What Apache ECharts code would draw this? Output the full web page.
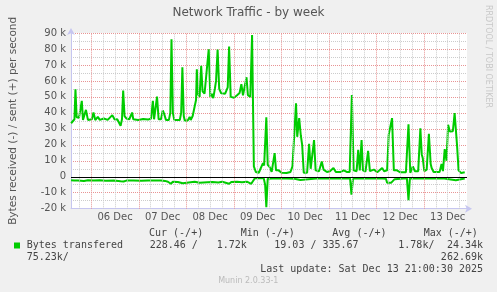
<!DOCTYPE html>
<html><head><meta charset="utf-8">
<script src="https://cdn.jsdelivr.net/npm/echarts@6/dist/echarts.min.js"></script>
<style>html,body{margin:0;padding:0;background:#f0f0f0}#c{width:497px;height:292px}</style>
</head><body><div id="c"></div>
<script>
// time in hours since 2025-12-05 00:00, values in kB/s
const sent = [
[13.8,33.5],[14.8,33.5],[15.5,36],[16.0,54.8],[16.6,37.3],[17.8,37],[19.2,47.5],[19.8,35.6],[21.3,41.9],[22.3,35.6],
[24.3,36],[25.1,40.2],[26.0,35.5],[27.3,37.5],[28.3,35.6],[30.3,36.5],[32.3,35.6],[34.6,38.6],[35.8,35.8],[37.1,36],
[38.8,31.9],[39.5,36],[40.1,54],[40.8,38],[41.7,36.5],[43.2,36],[44.6,40.2],[45.2,36],[47.7,35.5],[50.2,36.2],
[52.7,35.8],[54.2,36.5],[55.1,47.5],[55.7,36],[56.5,36],[57.2,50.2],[58.0,36],[59.2,36],[60.1,41.5],[60.9,39],
[61.7,35.6],[63.2,35.6],[63.9,40],[64.5,86],[65.2,40],[65.9,35.6],[68.7,35.5],[69.4,40],[70.0,68.5],[70.7,38],
[71.2,35.2],[72.7,35.2],[73.7,37.5],[74.2,35.5],[75.2,38],[76.2,44],[76.9,48],[77.3,67.3],[77.8,52],[78.7,50],
[79.5,69.4],[80.2,53.5],[81.2,52],[82.2,53],[83.3,79.8],[84.1,50],[84.9,52],[85.6,49.2],[86.4,55],[87.0,60],
[87.8,79.6],[88.6,55],[89.6,52.3],[91.6,52],[92.9,56],[93.6,81.5],[94.4,50],[96.1,49.5],[97.6,51],[98.9,52.5],
[99.8,58],[100.6,51],[101.6,50.5],[102.4,62.3],[103.1,51],[104.3,50],[105.2,88.7],[106.1,6.5],[107.1,3],[108.6,2.5],
[109.6,3.5],[110.7,8.5],[111.3,7],[112.4,37.3],[113.1,7.5],[114.1,6],[115.1,3],[116.6,14.8],[117.3,4],[118.6,4],
[119.1,5],[120.1,2.5],[122.6,2.3],[124.6,3],[125.6,6.5],[127.4,46],[128.0,25],[129.0,36.7],[129.8,26],[130.5,20],
[131.3,2.5],[133.0,2.5],[134.0,20.6],[134.8,5],[135.5,5],[136.5,23],[137.3,4],[139.0,3.5],[140.4,9.6],[141.3,4.5],
[143.0,3],[144.5,3.5],[146.3,5.5],[147.5,3],[150.0,3],[151.5,4],[153.0,3],[154.5,3],[155.6,51.2],[156.5,4],
[158.0,3.5],[158.8,16.9],[159.6,4],[160.5,23],[161.2,4],[162.5,3.3],[163.8,16.2],[164.7,3.5],[166.7,4.5],[168.4,2.8],
[170.9,5.5],[171.9,3.5],[173.4,4],[174.2,26.2],[175.2,26.5],[175.9,36.7],[176.8,4],[178.4,4],[179.9,2.8],[182.9,2.8],
[184.2,32.9],[185.1,2.5],[186.4,6.5],[187.4,3.5],[189.1,3.5],[190.2,30.4],[190.9,14],[191.4,11.7],[192.2,3.5],[193.4,4.5],
[194.5,26.9],[195.4,8],[195.9,5.5],[196.9,3],[199.9,3],[200.9,8],[201.6,3.5],[202.5,17.3],[203.4,10],[204.2,32.5],
[205.1,28.3],[206.6,28.5],[207.5,39.8],[208.0,39.5],[208.7,20],[209.5,4],[210.8,2.3],[212.6,2.8]
];
const received = [
[13.8,2.2],[15.3,2.4],[16.3,2.9],[17.3,2.3],[20.3,2.6],[22.3,2.2],[25.3,2.4],[28.3,2.2],[31.3,2.5],[35.3,2.3],
[38.8,2.8],[40.3,3.0],[41.7,2.4],[45.2,2.3],[49.2,2.5],[52.7,2.3],[56.2,2.4],[59.2,2.3],[61.2,2.6],[62.7,3.1],
[64.2,4.4],[65.2,3.1],[67.7,3.3],[70.2,4.1],[71.2,3.1],[74.2,3.4],[76.2,3.1],[78.7,3.8],[79.7,3.1],[82.7,3.4],
[83.7,4.3],[85.2,3.3],[88.2,3.6],[90.1,3.1],[93.6,4.4],[94.7,3.3],[97.6,3.2],[100.1,3.4],[102.6,3.1],[104.8,4.4],
[105.6,2.8],[106.6,1.0],[109.1,0.8],[111.1,1.0],[111.8,5],[112.4,19],[113.1,1.2],[117.6,1.0],[122.6,1.1],[126.6,1.2],
[127.6,2.1],[129.6,2.0],[130.6,1.0],[137.6,1.1],[145.1,1.0],[152.6,1.1],[154.7,1.0],[155.4,11.2],[156.2,1.0],[162.5,1.1],
[169.1,1.0],[172.8,1.2],[173.4,3.8],[174.4,4.9],[175.4,3.8],[176.4,4.9],[177.2,1.5],[177.9,1.0],[183.4,1.0],[184.2,14.6],
[184.9,1.0],[192.4,1.1],[201.4,1.0],[202.1,2.0],[208.1,2.2],[208.9,1.0],[212.6,1.1]
];
const dayLabels = ['06 Dec','07 Dec','08 Dec','09 Dec','10 Dec','11 Dec','12 Dec','13 Dec'];
const legendHeaders = ['Cur (-/+)','Min (-/+)','Avg (-/+)','Max (-/+)'];
const seriesName = 'Bytes transfered';
const statsRow1 = ['228.46 /','1.72k','19.03 / 335.67','1.78k/','24.34k'];
const statsRow2 = ['75.23k/','262.69k'];
const lastUpdate = 'Last update: Sat Dec 13 21:00:30 2025';
const titleText = 'Network Traffic - by week';
const yAxisTitle = 'Bytes received (-) / sent (+) per second';

const X_MIN = 13.75, X_MAX = 213.75;
const GREEN = '#00cc00';
const RED_GRID = '#e89494';
const GREY_GRID = '#cccccc';
const noonValues = dayLabels.map((d, i) => 36 + 24 * i);

const vLines = [];
for (let h = 18; h <= 210; h += 6) {
  const midnight = h % 24 === 0;
  vLines.push({xAxis: h, lineStyle: {color: midnight ? RED_GRID : GREY_GRID, type: [1, 1], width: 1}});
}

const mono = '10px "DejaVu Sans Mono"';
const txt = (text, x, y, align, extra) => Object.assign({
  type: 'text', silent: true,
  style: {text, x, y, font: mono, fill: '#444', textAlign: align || 'left', textVerticalAlign: 'middle'}
}, extra || {});

const chart = echarts.init(document.getElementById('c'), null, {renderer: 'canvas'});
chart.setOption({
  animation: false,
  backgroundColor: '#f0f0f0',
  title: {text: titleText, left: 'center', top: 7, padding: 0,
    textStyle: {fontFamily: 'DejaVu Sans', fontSize: 12, fontWeight: 'normal', color: '#555'}},
  grid: {left: 67, right: 30, top: 33, bottom: 83.3, show: true, backgroundColor: '#ffffff', borderWidth: 0},
  xAxis: {
    type: 'value', min: X_MIN, max: X_MAX,
    axisLine: {onZero: false, show: true, lineStyle: {color: '#c6c6f0', width: 1}, symbol: ['none', 'arrow'], symbolSize: [6, 7], symbolOffset: [0, 5]},
    axisTick: {show: false},
    splitLine: {show: false},
    axisLabel: {customValues: noonValues, margin: 4, color: '#555', fontFamily: 'DejaVu Sans', fontSize: 10,
      formatter: v => dayLabels[Math.round((v - 36) / 24)] || ''}
  },
  yAxis: {
    type: 'value', min: -20000, max: 90000, interval: 10000,
    name: yAxisTitle, nameLocation: 'middle', nameRotate: 90, nameGap: 52,
    nameTextStyle: {fontFamily: 'DejaVu Sans', fontSize: 10.5, color: '#555'},
    axisLine: {show: true, lineStyle: {color: '#c6c6f0', width: 1}, symbol: ['none', 'arrow'], symbolSize: [6, 7], symbolOffset: [0, 5]},
    axisTick: {show: false},
    axisLabel: {margin: 5, color: '#555', fontFamily: 'DejaVu Sans', fontSize: 10,
      formatter: v => v === 0 ? '0' : (v / 1000) + ' k'},
    splitLine: {show: true, lineStyle: {color: RED_GRID, type: [1, 1], width: 1}},
    minorTick: {show: false, splitNumber: 2},
    minorSplitLine: {show: true, lineStyle: {color: GREY_GRID, type: [1, 1], width: 1}}
  },
  series: [
    {type: 'line', data: [], z: 1, silent: true,
      markLine: {silent: true, symbol: 'none', label: {show: false}, animation: false, data: vLines}},
    {type: 'line', data: [], z: 2, silent: true,
      markLine: {silent: true, symbol: 'none', label: {show: false}, animation: false,
        data: [{yAxis: 0, lineStyle: {color: '#000', type: 'solid', width: 1}}]}},
    {name: 'sent', type: 'line', z: 3, showSymbol: false, symbol: 'none',
      data: sent.map(p => [p[0], p[1] * 1000]),
      lineStyle: {color: GREEN, width: 2}, itemStyle: {color: GREEN}},
    {name: 'received', type: 'line', z: 3, showSymbol: false, symbol: 'none',
      data: received.map(p => [p[0], -p[1] * 1000]),
      lineStyle: {color: GREEN, width: 2}, itemStyle: {color: GREEN}}
  ],
  graphic: [
    txt(legendHeaders[0], 149, 233.3), txt(legendHeaders[1], 240.7, 233.3),
    txt(legendHeaders[2], 332.3, 233.3), txt(legendHeaders[3], 423.7, 233.3),
    {type: 'rect', silent: true, shape: {x: 14, y: 242.5, width: 6, height: 6}, style: {fill: GREEN}},
    txt(seriesName, 26.7, 245.7),
    txt(statsRow1[0], 149.7, 245.7), txt(statsRow1[1], 216.7, 245.7),
    txt(statsRow1[2], 274.3, 245.7), txt(statsRow1[3], 398.3, 245.7),
    txt(statsRow1[4], 483, 245.7, 'right'),
    txt(statsRow2[0], 26.7, 257.7), txt(statsRow2[1], 483, 257.7, 'right'),
    txt(lastUpdate, 483, 269.3, 'right'),
    {type: 'text', silent: true, style: {text: 'Munin 2.0.33-1', x: 248.3, y: 281, font: '8px "DejaVu Sans"', fill: '#bbbbbb', textAlign: 'center', textVerticalAlign: 'middle'}},
    {type: 'text', silent: true, x: 488.5, y: 56.5, rotation: -Math.PI / 2,
      style: {text: 'RRDTOOL / TOBI OETIKER', x: 0, y: 0, font: '8px "DejaVu Sans"', fill: '#c8c8c8', textAlign: 'center', textVerticalAlign: 'middle'}}
  ]
});
</script></body></html>
